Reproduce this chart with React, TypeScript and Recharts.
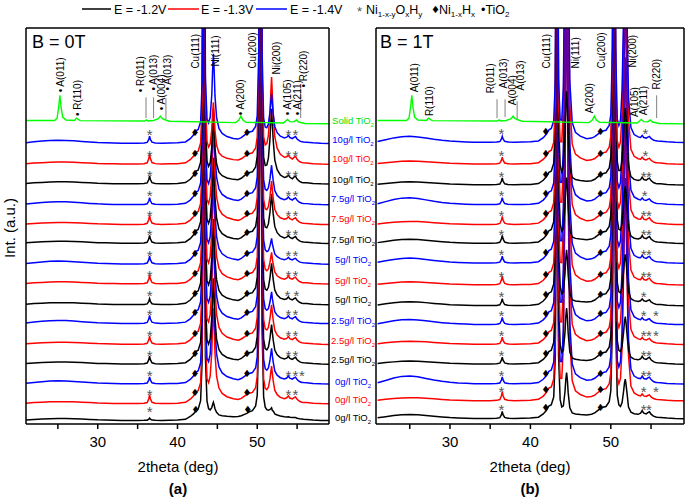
import { ComposedChart, Line, Scatter, XAxis, YAxis } from "recharts";

// 2theta sample positions shared by every measured trace
const GRID = [
  21, 22, 23, 24, 25, 26, 27, 28, 29, 30, 31, 32, 33, 34, 35, 35.8, 36.2, 36.4, 36.5, 36.6, 36.8, 37.2, 38, 39, 40,
  41, 41.6, 42, 42.3, 42.6, 42.9, 43.1, 43.2, 43.3, 43.4, 43.5, 43.7, 43.9, 44.1, 44.3, 44.4, 44.5, 44.6, 44.7,
  44.9, 45.2, 45.6, 46.2, 47, 47.6, 48, 48.4, 48.7, 49, 49.4, 49.8, 50, 50.2, 50.3, 50.4, 50.5, 50.6, 50.8, 51,
  51.2, 51.4, 51.6, 51.7, 51.8, 51.9, 52, 52.2, 52.5, 52.9, 53.4, 53.7, 53.9, 54.1, 54.4, 54.6, 54.8, 55, 55.3,
  55.6, 55.8, 56.2, 57, 58, 59.1,
];

// profile components (relative intensity at the grid positions, 0 where missing)
const BG: Record<string, number> = {
  21: 0.05, 22: 0.08, 23: 0.1, 24: 0.12, 25: 0.13, 26: 0.13, 27: 0.12, 28: 0.1, 29: 0.08, 30: 0.06, 31: 0.05,
  32: 0.04, 33: 0.03, 34: 0.03, 35: 0.03, 35.8: 0.03, 36.2: 0.03, 36.4: 0.03, 36.5: 0.03, 36.6: 0.03, 36.8: 0.03,
  37.2: 0.03, 38: 0.03, 39: 0.04, 40: 0.05, 41: 0.08, 41.6: 0.11, 42: 0.13, 42.3: 0.15, 42.6: 0.17, 42.9: 0.19,
  43.1: 0.2, 43.2: 0.2, 43.3: 0.2, 43.4: 0.2, 43.5: 0.2, 43.7: 0.21, 43.9: 0.22, 44.1: 0.22, 44.3: 0.23,
  44.4: 0.23, 44.5: 0.23, 44.6: 0.23, 44.7: 0.23, 44.9: 0.23, 45.2: 0.23, 45.6: 0.23, 46.2: 0.22, 47: 0.21,
  47.6: 0.21, 48: 0.22, 48.4: 0.23, 48.7: 0.24, 49: 0.25, 49.4: 0.26, 49.8: 0.28, 50: 0.29, 50.2: 0.3, 50.3: 0.3,
  50.4: 0.3, 50.5: 0.3, 50.6: 0.3, 50.8: 0.31, 51: 0.32, 51.2: 0.33, 51.4: 0.33, 51.6: 0.33, 51.7: 0.33,
  51.8: 0.33, 51.9: 0.32, 52: 0.31, 52.2: 0.29, 52.5: 0.27, 52.9: 0.24, 53.4: 0.2, 53.7: 0.18, 53.9: 0.17,
  54.1: 0.16, 54.4: 0.15, 54.6: 0.14, 54.8: 0.13, 55: 0.12, 55.3: 0.11, 55.6: 0.1, 55.8: 0.09, 56.2: 0.08,
  57: 0.05, 58: 0.03, 59.1: 0.02,
};
const HUMP: Record<string, number> = {
  21: 0.1, 22: 0.4, 23: 0.75, 24: 0.95, 25: 1, 26: 0.85, 27: 0.6, 28: 0.4, 29: 0.25, 30: 0.15, 31: 0.08, 32: 0.04,
};
const STAR36: Record<string, number> = { 35.8: 0.03, 36.2: 0.12, 36.4: 0.55, 36.5: 1, 36.6: 0.55, 36.8: 0.15, 37.2: 0.04 };
const DIA42: Record<string, number> = { 41: 0.05, 41.6: 0.2, 42: 0.55, 42.3: 1, 42.6: 0.75, 42.9: 0.6 };
const DIA48: Record<string, number> = { 47.6: 0.1, 48: 0.3, 48.4: 0.7, 48.7: 1, 49: 0.85, 49.4: 0.75, 49.8: 0.8, 50: 0.8 };
const CU111: Record<string, number> = {
  41.6: 0.003, 42: 0.005, 42.3: 0.007, 42.6: 0.011, 42.9: 0.025, 43.1: 0.1, 43.2: 0.45, 43.3: 1, 43.4: 0.45,
  43.5: 0.1, 43.7: 0.025, 43.9: 0.011, 44.1: 0.007, 44.3: 0.005, 44.4: 0.004, 44.5: 0.004, 44.6: 0.003,
  44.7: 0.003, 44.9: 0.002,
};
const CU200: Record<string, number> = {
  49: 0.003, 49.4: 0.005, 49.8: 0.012, 50: 0.03, 50.2: 0.15, 50.3: 0.5, 50.4: 1, 50.5: 0.5, 50.6: 0.15, 50.8: 0.03,
  51: 0.012, 51.2: 0.007, 51.4: 0.005, 51.6: 0.004, 51.7: 0.003, 51.8: 0.003, 52: 0.002,
};
const NI111_WIDE: Record<string, number> = {
  43.5: 0.04, 43.7: 0.07, 43.9: 0.12, 44.1: 0.22, 44.3: 0.5, 44.4: 0.8, 44.5: 1, 44.6: 0.8, 44.7: 0.5, 44.9: 0.25,
  45.2: 0.13, 45.6: 0.07, 46.2: 0.035, 47: 0.015,
};
const NI200_WIDE: Record<string, number> = {
  50.8: 0.05, 51: 0.08, 51.2: 0.13, 51.4: 0.25, 51.6: 0.55, 51.7: 0.8, 51.8: 1, 51.9: 0.8, 52: 0.55, 52.2: 0.28,
  52.5: 0.14, 52.9: 0.07, 53.4: 0.035, 53.7: 0.02, 54.1: 0.01,
};
const NI111_STRONG: Record<string, number> = {
  43.7: 0.01, 43.9: 0.03, 44.1: 0.12, 44.3: 0.5, 44.4: 0.82, 44.5: 1, 44.6: 0.82, 44.7: 0.5, 44.9: 0.14,
  45.2: 0.04, 45.6: 0.015, 46.2: 0.006,
};
const NI200_STRONG: Record<string, number> = {
  51: 0.02, 51.2: 0.06, 51.4: 0.22, 51.6: 0.62, 51.7: 0.88, 51.8: 1, 51.9: 0.88, 52: 0.62, 52.2: 0.2, 52.5: 0.05,
  52.9: 0.018, 53.4: 0.008,
};
const S54: Record<string, number> = { 53.4: 0.1, 53.7: 0.45, 53.9: 1, 54.1: 0.55, 54.4: 0.45, 54.6: 0.75, 54.8: 0.95, 55: 0.5, 55.3: 0.15 };

const CU_HEIGHT = 30;

// traces, bottom to top: 0g/l (-1.2V, -1.3V, -1.4V), 2.5g/l ..., 10g/l
const CONCENTRATIONS = ["0g/l", "2.5g/l", "5g/l", "7.5g/l", "10g/l"];
const VOLTAGE_COLORS = ["#000000", "#ff0000", "#0000ff"];

// panel (a), B = 0T
const A_OFFSETS = [0.15, 1.0, 2.0, 3.0, 4.0, 5.05, 6.0, 7.05, 8.05, 9.1, 10.05, 11.05, 12.1, 13.1, 14.15];
const A_NI111 = [0.6, 4.5, 5.0, 4.0, 5.0, 4.5, 4.0, 4.5, 4.5, 4.0, 4.5, 4.5, 3.0, 2.8, 4.2];
const A_NI200 = [0.25, 1.5, 1.4, 1.6, 1.6, 1.2, 1.7, 1.2, 0.9, 2.1, 1.8, 1.6, 3.4, 4.0, 2.1];
const A_STAR = [0.12, 0.45, 0.35, 0.4, 0.4, 0.4, 0.3, 0.45, 0.4, 0.4, 0.45, 0.35, 0.4, 0.5, 0.35];
const A_DIA = [0.15, 0.25, 0.25, 0.3, 0.25, 0.3, 0.3, 0.25, 0.3, 0.3, 0.25, 0.3, 0.3, 0.25, 0.3];
const A_S54 = [0.05, 0.25, 0.25, 0.25, 0.25, 0.25, 0.25, 0.25, 0.2, 0.25, 0.25, 0.25, 0.3, 0.3, 0.25];
const A_HUMP = [0, 0, 0.05, 0, 0, 0.05, 0, 0, 0.05, 0, 0, 0.05, 0, 0, 0.05];

// panel (b), B = 1T
const B_OFFSETS = [0.25, 1.15, 2.0, 3.0, 4.0, 5.0, 5.95, 7.0, 8.1, 9.1, 10.05, 11.05, 12.05, 13.1, 14.2];
const B_NI111 = [2.0, 20, 20, 2.5, 20, 20, 2.5, 20, 20, 3.0, 20, 20, 4.4, 20, 20];
const B_NI200 = [1.6, 10, 10, 2.0, 10, 10, 2.2, 10, 10, 2.5, 10, 10, 3.5, 10, 10];
const B_STAR = [0.35, 0.45, 0.35, 0.35, 0.35, 0.35, 0.35, 0.45, 0.35, 0.4, 0.4, 0.35, 0.35, 0.35, 0.3];
const B_DIA = [0.3, 0.3, 0.3, 0.3, 0.3, 0.3, 0.3, 0.3, 0.3, 0.3, 0.3, 0.3, 0.3, 0.3, 0.3];
const B_S54 = [0.25, 0.2, 0.25, 0.25, 0.2, 0.2, 0.2, 0.25, 0.25, 0.25, 0.25, 0.2, 0.25, 0.2, 0.2];
const B_HUMP = [0.1, 0.05, 0.3, 0.05, 0.05, 0.15, 0.1, 0.05, 0.15, 0.1, 0.05, 0.25, 0.05, 0.05, 0.2];

// solid TiO2 reference pattern (green)
const TIO2_POINTS: [number, number][] = [
  [21, 15.33], [24.6, 15.33], [24.9, 15.45], [25.1, 16.0], [25.25, 16.6], [25.4, 16.0], [25.6, 15.5], [26, 15.35],
  [27.1, 15.33], [27.3, 15.45], [27.5, 15.4], [27.8, 15.32], [35.9, 15.3], [36.1, 15.36], [36.3, 15.3],
  [37.0, 15.33], [37.6, 15.42], [37.85, 15.55], [38.1, 15.42], [38.6, 15.34], [39, 15.29], [47.3, 15.22],
  [47.7, 15.35], [47.95, 15.55], [48.2, 15.35], [48.6, 15.24], [53.3, 15.2], [53.6, 15.32], [53.8, 15.38],
  [54.1, 15.27], [54.6, 15.26], [54.9, 15.36], [55.2, 15.25], [56, 15.18], [59.1, 15.16],
];

// sample labels between the panels
const LABEL_Y = [0.3, 1.21, 2.12, 3.23, 4.19, 5.2, 6.26, 7.22, 8.28, 9.29, 10.35, 11.36, 12.32, 13.38, 14.34, 15.3];

// phase symbols over each trace: [char, 2theta]
const A_MARKS: [string, number][][] = [
  [["*", 36.5], ["♦", 42.3], ["♦", 48.8]],
  [["*", 36.5], ["♦", 42.2], ["♦", 48.7], ["*", 53.9], ["*", 54.8]],
  [["*", 36.5], ["♦", 42.2], ["♦", 48.7], ["*", 53.9], ["*", 54.8], ["*", 55.6]],
  [["*", 36.5], ["♦", 42.2], ["♦", 48.7], ["*", 53.9], ["*", 54.8]],
  [["*", 36.5], ["♦", 42.2], ["♦", 48.7], ["*", 53.9], ["*", 54.8]],
  [["*", 36.5], ["♦", 42.2], ["♦", 48.7], ["*", 53.9], ["*", 54.8]],
  [["*", 36.5], ["♦", 42.2], ["♦", 48.7], ["*", 53.8], ["*", 54.9]],
  [["*", 36.5], ["♦", 42.2], ["♦", 48.7], ["*", 53.9], ["*", 54.8]],
  [["*", 36.5], ["♦", 42.2], ["♦", 48.7], ["*", 53.9], ["*", 54.8]],
  [["*", 36.5], ["♦", 42.2], ["♦", 48.7], ["*", 53.9], ["*", 54.8]],
  [["*", 36.5], ["♦", 42.2], ["♦", 48.7], ["*", 53.9], ["*", 54.8]],
  [["*", 36.5], ["♦", 42.2], ["♦", 48.7], ["*", 53.9], ["*", 54.8]],
  [["*", 36.5], ["♦", 42.2], ["♦", 48.7], ["*", 53.9], ["*", 54.8]],
  [["*", 36.5], ["♦", 42.2], ["♦", 48.7], ["*", 53.9], ["*", 54.8]],
  [["*", 36.5], ["♦", 42.2], ["♦", 48.7], ["*", 53.9], ["*", 54.8]],
];
const B_MARKS: [string, number][][] = [
  [["*", 36.4], ["♦", 41.9], ["♦", 48.7], ["*", 54.1], ["*", 54.75]],
  [["*", 36.4], ["♦", 41.9], ["♦", 48.7], ["*", 54.1], ["*", 55.6]],
  [["*", 36.4], ["♦", 41.9], ["♦", 48.7], ["*", 54.1], ["*", 54.75]],
  [["*", 36.4], ["♦", 41.9], ["♦", 48.7], ["*", 54.1], ["*", 54.75]],
  [["*", 36.4], ["♦", 41.9], ["♦", 48.7], ["*", 54.1], ["*", 54.75], ["*", 55.6]],
  [["*", 36.4], ["♦", 41.9], ["♦", 48.7], ["*", 54.1], ["*", 55.6]],
  [["*", 36.4], ["♦", 41.9], ["♦", 48.7], ["*", 54.1]],
  [["*", 36.4], ["♦", 41.9], ["♦", 48.7], ["*", 54.1], ["*", 54.75]],
  [["*", 36.4], ["♦", 41.9], ["♦", 48.7], ["*", 54.1], ["*", 54.75]],
  [["*", 36.4], ["♦", 41.9], ["♦", 48.7], ["*", 54.1], ["*", 54.75]],
  [["*", 36.4], ["♦", 41.9], ["♦", 48.7], ["*", 54.1], ["*", 54.75]],
  [["*", 36.4], ["♦", 41.9], ["♦", 48.7], ["*", 54.2]],
  [["*", 36.4], ["♦", 41.9], ["♦", 48.7], ["*", 54.1], ["*", 54.75]],
  [["*", 36.4], ["♦", 41.9], ["♦", 48.7], ["*", 54.3]],
  [["*", 36.4], ["♦", 41.9], ["♦", 48.7], ["*", 54.3]],
];

// rotated peak annotations: [text, 2theta, bottom of text]
const A_NOTES: [string, number, number][] = [
  ["• A(011)", 25.3, 16.75], ["• R(110)", 27.4, 15.55], ["• R(011)", 35.3, 16.75], ["• A(013)", 37.05, 16.85],
  ["• A(004)", 37.95, 15.85], ["• A(013)", 38.8, 16.85], ["Cu(111)", 42.2, 17.95], ["Ni(111)", 44.75, 18.05],
  ["• A(200)", 47.85, 15.6], ["Cu(200)", 49.35, 17.95], ["Ni(200)", 52.4, 17.65], ["• A(105)", 53.75, 15.6],
  ["• A(211)", 55.0, 15.6], ["• R(220)", 55.75, 17.0],
];
const B_NOTES: [string, number, number][] = [
  ["A(011)", 25.65, 16.75], ["R(110)", 27.5, 15.55], ["R(011)", 35.1, 16.7], ["A(013)", 36.7, 16.95],
  ["A(004)", 37.75, 16.1], ["A(013)", 38.75, 16.85], ["Cu(111)", 42.05, 17.95], ["Ni(111)", 45.55, 17.95],
  ["A(200)", 47.4, 15.7], ["Cu(200)", 48.9, 17.95], ["Ni(200)", 52.75, 18.0], ["A(105)", 53.0, 15.5],
  ["A(211)", 54.1, 15.6], ["R(220)", 55.7, 16.9],
];
// thin drop lines under some labels: [2theta, y from, y to]
const A_DROPS: [number, number, number][] = [[36.05, 15.45, 16.5], [37.0, 15.45, 16.5], [38.55, 15.4, 16.45], [55.45, 15.45, 16.85]];
const B_DROPS: [number, number, number][] = [[35.85, 15.45, 16.4], [36.85, 15.5, 16.4], [38.35, 15.4, 16.3], [55.7, 15.45, 16.6]];

const MARK_LIFT = 0.6;
const FONT = "Arial, 'Liberation Sans', sans-serif";

interface PanelSpec {
  offsets: number[];
  ni111: number[];
  ni200: number[];
  star: number[];
  dia: number[];
  s54: number[];
  hump: number[];
  ni111Shape: Record<string, number>;
  ni200Shape: Record<string, number>;
  marks: [string, number][][];
  notes: [string, number, number][];
  drops: [number, number, number][];
}

const PANEL_A: PanelSpec = {
  offsets: A_OFFSETS, ni111: A_NI111, ni200: A_NI200, star: A_STAR, dia: A_DIA, s54: A_S54, hump: A_HUMP,
  ni111Shape: NI111_WIDE, ni200Shape: NI200_WIDE, marks: A_MARKS, notes: A_NOTES, drops: A_DROPS,
};
const PANEL_B: PanelSpec = {
  offsets: B_OFFSETS, ni111: B_NI111, ni200: B_NI200, star: B_STAR, dia: B_DIA, s54: B_S54, hump: B_HUMP,
  ni111Shape: NI111_STRONG, ni200Shape: NI200_STRONG, marks: B_MARKS, notes: B_NOTES, drops: B_DROPS,
};

const v = (shape: Record<string, number>, x: number) => shape[String(x)] ?? 0;

function buildTraces(p: PanelSpec) {
  return p.offsets.map((off, k) =>
    GRID.map((x) => ({
      x,
      y:
        off +
        v(BG, x) +
        p.hump[k] * v(HUMP, x) +
        p.star[k] * v(STAR36, x) +
        p.dia[k] * (v(DIA42, x) + v(DIA48, x)) +
        CU_HEIGHT * (v(CU111, x) + v(CU200, x)) +
        p.ni111[k] * v(p.ni111Shape, x) +
        p.ni200[k] * v(p.ni200Shape, x) +
        p.s54[k] * v(S54, x),
    })),
  );
}

const tio2Data = TIO2_POINTS.map(([x, y]) => ({ x, y }));

const MarkShape = (props: any) => {
  const { cx, cy, payload } = props;
  if (cx == null || cy == null) return null;
  if (payload.ch === "*") {
    return (
      <text x={cx} y={cy + 8} textAnchor="middle" fontSize={15} fill="#555" fontFamily={FONT}>
        *
      </text>
    );
  }
  return (
    <text x={cx} y={cy + 4} textAnchor="middle" fontSize={10} fill="#000" fontFamily="'DejaVu Sans', sans-serif">
      ♦
    </text>
  );
};

const NoteShape = (props: any) => {
  const { cx, cy, payload } = props;
  if (cx == null || cy == null) return null;
  return (
    <text
      x={cx}
      y={cy}
      dy="0.35em"
      transform={`rotate(-90 ${cx} ${cy})`}
      fontSize={10}
      fill="#000"
      fontFamily={FONT}
    >
      {payload.text}
    </text>
  );
};

const SampleTick = (props: any) => {
  const { x, y, payload } = props;
  const i = LABEL_Y.indexOf(payload.value);
  if (i < 0) return null;
  const solid = i === LABEL_Y.length - 1;
  const color = solid ? "#00e000" : VOLTAGE_COLORS[i % 3];
  const name = solid ? "Solid TiO" : `${CONCENTRATIONS[Math.floor(i / 3)]} TiO`;
  return (
    <text x={x + 24} y={y + 3} textAnchor="middle" fontSize={9.5} fill={color} fontFamily={FONT}>
      <tspan>{name}</tspan>
      <tspan fontSize={6} dy={2.5}>
        2
      </tspan>
    </text>
  );
};

function Panel({ spec, width, domain, labels }: { spec: PanelSpec; width: number; domain: [number, number]; labels: boolean }) {
  const traces = buildTraces(spec);
  const marks = spec.marks.flatMap((list, k) => list.map(([ch, x]) => ({ x, y: spec.offsets[k] + MARK_LIFT, ch })));
  const notes = spec.notes.map(([text, x, y]) => ({ x, y, text }));
  return (
    <ComposedChart width={width} height={499} margin={{ top: 0, right: 0, bottom: 0, left: 0 }}>
      <XAxis
        dataKey="x"
        type="number"
        domain={domain}
        allowDataOverflow
        ticks={[25, 30, 35, 40, 45, 50, 55]}
        interval={0}
        tickFormatter={(t) => (t % 10 === 0 ? String(t) : "")}
        height={75}
        tickSize={5}
        tickMargin={7}
        axisLine={{ stroke: "#000", strokeWidth: 1.5 }}
        tickLine={{ stroke: "#000", strokeWidth: 1.5 }}
        tick={{ fill: "#000", fontSize: 15, fontFamily: FONT }}
      />
      <XAxis
        xAxisId="top"
        orientation="top"
        dataKey="x"
        type="number"
        domain={domain}
        allowDataOverflow
        height={28}
        tick={false}
        tickLine={false}
        axisLine={{ stroke: "#000", strokeWidth: 1.5 }}
      />
      <YAxis
        dataKey="y"
        type="number"
        domain={[0, 20]}
        allowDataOverflow
        width={26}
        tick={false}
        tickLine={false}
        axisLine={{ stroke: "#000", strokeWidth: 1.5 }}
      />
      <YAxis
        yAxisId="labels"
        orientation="right"
        type="number"
        domain={[0, 20]}
        allowDataOverflow
        width={labels ? 51 : 1}
        ticks={labels ? LABEL_Y : []}
        interval={0}
        tickSize={0}
        tickMargin={0}
        tickLine={false}
        tick={labels ? <SampleTick /> : false}
        axisLine={{ stroke: "#000", strokeWidth: 1.5 }}
      />
      {traces.map((data, k) => (
        <Line
          key={k}
          data={data}
          dataKey="y"
          type="linear"
          stroke={VOLTAGE_COLORS[k % 3]}
          strokeWidth={1.5}
          dot={false}
          isAnimationActive={false}
        />
      ))}
      <Line data={tio2Data} dataKey="y" type="linear" stroke="#00ff00" strokeWidth={1.4} dot={false} isAnimationActive={false} />
      {spec.drops.map(([x, y1, y2], i) => (
        <Line
          key={`d${i}`}
          data={[{ x, y: y1 }, { x, y: y2 }]}
          dataKey="y"
          stroke="#808080"
          strokeWidth={1}
          dot={false}
          isAnimationActive={false}
        />
      ))}
      <Scatter data={marks} dataKey="y" shape={<MarkShape />} isAnimationActive={false} />
      <Scatter data={notes} dataKey="y" shape={<NoteShape />} isAnimationActive={false} />
    </ComposedChart>
  );
}

function Sub({ children }: { children: string }) {
  return (
    <tspan fontSize={8} dy={3}>
      {children}
    </tspan>
  );
}

export default function App() {
  return (
    <div style={{ position: "absolute", left: 0, top: 0, width: 685, height: 499, background: "#fff", overflow: "hidden" }}>
      <div style={{ position: "absolute", left: 0, top: 0 }}>
        <Panel spec={PANEL_A} width={380} domain={[21, 59]} labels />
      </div>
      <div style={{ position: "absolute", left: 350, top: 0 }}>
        <Panel spec={PANEL_B} width={335} domain={[20.8, 59.1]} labels={false} />
      </div>
      <svg width={685} height={499} style={{ position: "absolute", left: 0, top: 0, pointerEvents: "none" }} fontFamily={FONT}>
        {/* legend */}
        <line x1={82} y1={9} x2={111} y2={9} stroke="#000" strokeWidth={1.5} />
        <text x={114} y={13.5} fontSize={12.5}>E = -1.2V</text>
        <line x1={168} y1={9} x2={199} y2={9} stroke="#ff0000" strokeWidth={1.5} />
        <text x={201} y={13.5} fontSize={12.5}>E = -1.3V</text>
        <line x1={256} y1={9} x2={287} y2={9} stroke="#0000ff" strokeWidth={1.5} />
        <text x={290} y={13.5} fontSize={12.5}>E = -1.4V</text>
        <text x={357} y={16} fontSize={13} fill="#555">*</text>
        <text x={366} y={13.5} fontSize={12.5}>
          Ni<Sub>1-x-y</Sub>
          <tspan dy={-3}>O</tspan>
          <Sub>x</Sub>
          <tspan dy={-3}>H</tspan>
          <Sub>y</Sub>
        </text>
        <text x={431} y={13} fontSize={10} fontFamily="'DejaVu Sans', sans-serif">♦</text>
        <text x={439} y={13.5} fontSize={12.5}>
          Ni<Sub>1-x</Sub>
          <tspan dy={-3}>H</tspan>
          <Sub>x</Sub>
        </text>
        <text x={481} y={13.5} fontSize={12.5}>
          •TiO<Sub>2</Sub>
        </text>
        {/* panel titles */}
        <text x={32} y={48} fontSize={18}>B = 0T</text>
        <text x={380} y={48} fontSize={18}>B = 1T</text>
        {/* axis titles */}
        <text x={15} y={228} fontSize={15} textAnchor="middle" transform="rotate(-90 15 228)">Int. (a.u.)</text>
        <text x={178} y={472} fontSize={15} textAnchor="middle">2theta (deg)</text>
        <text x={530} y={472} fontSize={15} textAnchor="middle">2theta (deg)</text>
        <text x={178} y={494} fontSize={15} fontWeight="bold" textAnchor="middle">(a)</text>
        <text x={530} y={494} fontSize={15} fontWeight="bold" textAnchor="middle">(b)</text>
      </svg>
    </div>
  );
}
